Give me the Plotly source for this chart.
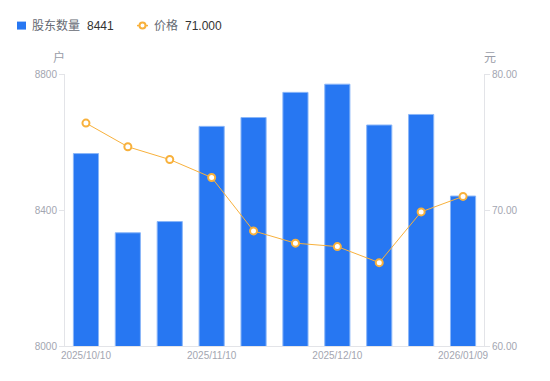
import plotly.graph_objects as go

# ---- data ----
dates = ["2025/10/10", "2025/10/20", "2025/10/31", "2025/11/10", "2025/11/20",
         "2025/11/28", "2025/12/10", "2025/12/19", "2025/12/31", "2026/01/09"]
holders = [8566, 8333, 8366, 8646, 8672, 8746, 8770, 8650, 8681, 8441]
price = [76.39, 74.65, 73.71, 72.39, 68.46, 67.56, 67.31, 66.13, 69.86, 71.00]
tick_dates = ["2025/10/10", "2025/11/10", "2025/12/10", "2026/01/09"]
left_ticks = [8000, 8400, 8800]
right_ticks = [60, 70, 80]

BLUE = "#2777f2"
ORANGE = "#f8b13c"
TICK_C = "#a3a6b1"
AXIS_C = "#e3e4e8"
FONT = "Liberation Sans, Noto Sans CJK SC, sans-serif"

# page has an 8px body margin; figure is sized to fit the 550x381 window
OFF = 8
FW, FH = 550 - OFF, 381 - OFF
# plot area in page pixels
L, R, T, B = 65, 484, 73.5, 346
W, H = R - L, B - T
def px(x): return (x - L) / W
def py(y): return (B - y) / H

fig = go.Figure()
fig.add_trace(go.Bar(
    x=dates, y=holders, name="股东数量",
    marker=dict(color=BLUE, line=dict(color="#8ab6f8", width=1)),
    yaxis="y", showlegend=False,
))
fig.add_trace(go.Scatter(
    x=dates, y=price, name="价格", mode="lines+markers",
    line=dict(color=ORANGE, width=1),
    marker=dict(symbol="circle", size=7, color="white", line=dict(color=ORANGE, width=2)),
    yaxis="y2", showlegend=False,
))

fig.update_layout(
    width=FW, height=FH,
    margin=dict(l=L - OFF, r=550 - R, t=T - OFF, b=381 - B),
    paper_bgcolor="white", plot_bgcolor="white",
    font=dict(family=FONT, size=10, color=TICK_C),
    bargap=0.4,
    xaxis=dict(
        type="category", range=[-0.5, len(dates) - 0.5],
        tickmode="array", tickvals=tick_dates, ticktext=tick_dates,
        showgrid=False, showline=True, linecolor=AXIS_C, linewidth=1,
        ticks="", tickfont=dict(size=10, color=TICK_C), zeroline=False,
    ),
    yaxis=dict(
        range=[8000, 8800], tickvals=left_ticks, showgrid=False,
        showline=True, linecolor=AXIS_C, linewidth=1,
        ticks="outside", ticklen=5, tickcolor=AXIS_C,
        tickfont=dict(size=10, color=TICK_C), zeroline=False,
    ),
    yaxis2=dict(
        range=[60, 80], tickvals=right_ticks, tickformat=".2f",
        overlaying="y", side="right", showgrid=False,
        showline=True, linecolor=AXIS_C, linewidth=1,
        ticks="outside", ticklen=5, tickcolor=AXIS_C,
        tickfont=dict(size=10, color=TICK_C), zeroline=False,
    ),
)

ann = []
# axis unit titles
ann.append(dict(text="户", x=px(59), y=py(57), xref="paper", yref="paper",
                xanchor="center", yanchor="middle", showarrow=False,
                font=dict(size=12, color="#9a9da8", family=FONT)))
ann.append(dict(text="元", x=px(490), y=py(57), xref="paper", yref="paper",
                xanchor="center", yanchor="middle", showarrow=False,
                font=dict(size=12, color="#9a9da8", family=FONT)))
# custom legend
ann.append(dict(text="股东数量", x=px(30), y=py(25), xref="paper", yref="paper",
                xanchor="left", yanchor="middle", showarrow=False,
                font=dict(size=12, color="#666a73", family=FONT)))
ann.append(dict(text=f"{holders[-1]}", x=px(85), y=py(25), xref="paper", yref="paper",
                xanchor="left", yanchor="middle", showarrow=False,
                font=dict(size=12, color="#333333", family=FONT)))
ann.append(dict(text="价格", x=px(152), y=py(25), xref="paper", yref="paper",
                xanchor="left", yanchor="middle", showarrow=False,
                font=dict(size=12, color="#666a73", family=FONT)))
ann.append(dict(text=f"{price[-1]:.3f}", x=px(183), y=py(25), xref="paper", yref="paper",
                xanchor="left", yanchor="middle", showarrow=False,
                font=dict(size=12, color="#333333", family=FONT)))
fig.update_layout(annotations=ann)

shapes = [
    dict(type="rect", xref="paper", yref="paper", x0=px(17), x1=px(26), y0=py(29), y1=py(21),
         fillcolor=BLUE, line=dict(width=0)),
    dict(type="line", xref="paper", yref="paper", x0=px(137), x1=px(148), y0=py(25), y1=py(25),
         line=dict(color=ORANGE, width=1.5)),
    dict(type="circle", xref="paper", yref="paper", x0=px(139.5), x1=px(145.5), y0=py(28), y1=py(22),
         fillcolor="white", line=dict(color=ORANGE, width=2)),
]
fig.update_layout(shapes=shapes)

fig.write_html("out.html")
